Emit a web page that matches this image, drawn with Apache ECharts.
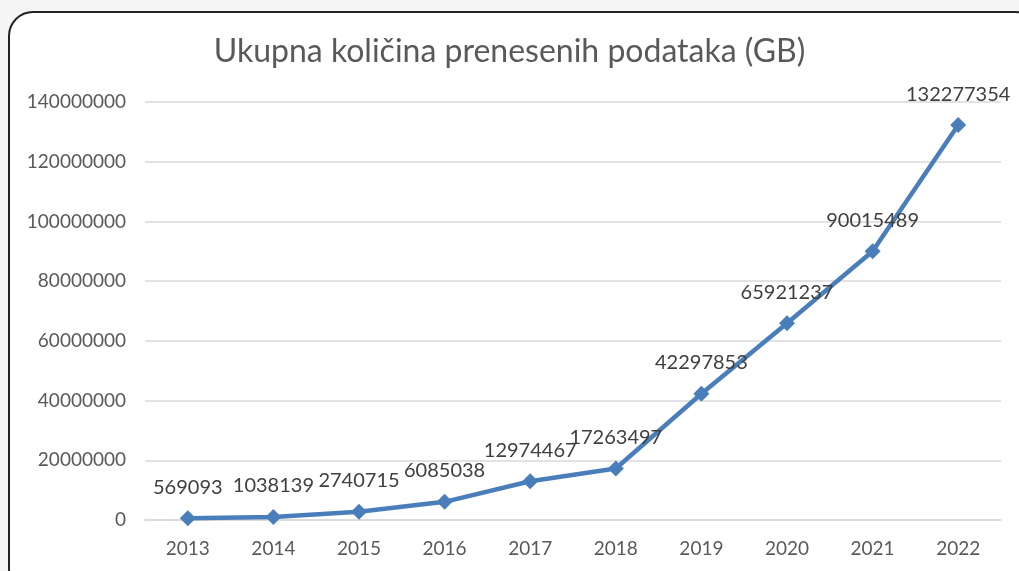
<!DOCTYPE html>
<html lang="hr">
<head>
    <meta charset="UTF-8">
    <script src="https://cdn.jsdelivr.net/npm/echarts@6/dist/echarts.min.js"></script>
    <title>Ukupna količina prenesenih podataka</title>
    <style>
        html, body { margin: 0; padding: 0; background: #f5f5f5; }
    </style>
</head>
<body>
<div id="lineChart" style="width:1019px;height:571px;"></div>
<script type="text/javascript">
    // podaci
    var years = ['2013', '2014', '2015', '2016', '2017', '2018', '2019', '2020', '2021', '2022'];
    var gbValues = [569093, 1038139, 2740715, 6085038, 12974467, 17263497, 42297853, 65921237, 90015489, 132277354];

    var lineChart = echarts.init(document.getElementById('lineChart'));

    var option = {
        backgroundColor: '#f5f5f5',
        textStyle: { fontFamily: 'Lato' },
        graphic: [{
            type: 'rect',
            z: -10,
            shape: { x: 9, y: 12, width: 1030, height: 580, r: 24 },
            style: { fill: '#ffffff', stroke: '#222222', lineWidth: 2 }
        }],
        title: {
            text: 'Ukupna količina prenesenih podataka (GB)',
            left: 'center',
            top: 31,
            textStyle: { fontFamily: 'Lato', fontSize: 32, fontWeight: 'normal', color: '#595959' }
        },
        grid: { left: 145, right: 18, top: 102, bottom: 51 },
        xAxis: {
            type: 'category',
            data: years,
            boundaryGap: true,
            axisLine: { show: true, lineStyle: { color: '#d9d9d9', width: 1.5 } },
            axisTick: { show: false },
            axisLabel: { color: '#595959', fontSize: 19, margin: 19 }
        },
        yAxis: {
            type: 'value',
            min: 0,
            max: 140000000,
            interval: 20000000,
            axisLine: { show: false },
            axisTick: { show: false },
            splitLine: { lineStyle: { color: '#d9d9d9', width: 1.5 } },
            axisLabel: {
                color: '#595959',
                fontSize: 19,
                margin: 19,
                formatter: function (v) { return String(v); }
            }
        },
        series: [{
            type: 'line',
            data: gbValues,
            symbol: 'diamond',
            symbolSize: 16,
            lineStyle: { color: '#4a7ebb', width: 4.5 },
            itemStyle: { color: '#4a7ebb' },
            label: {
                show: true,
                position: 'top',
                distance: 13,
                color: '#404040',
                fontSize: 20
            }
        }]
    };
    lineChart.setOption(option);
</script>
</body>
</html>
